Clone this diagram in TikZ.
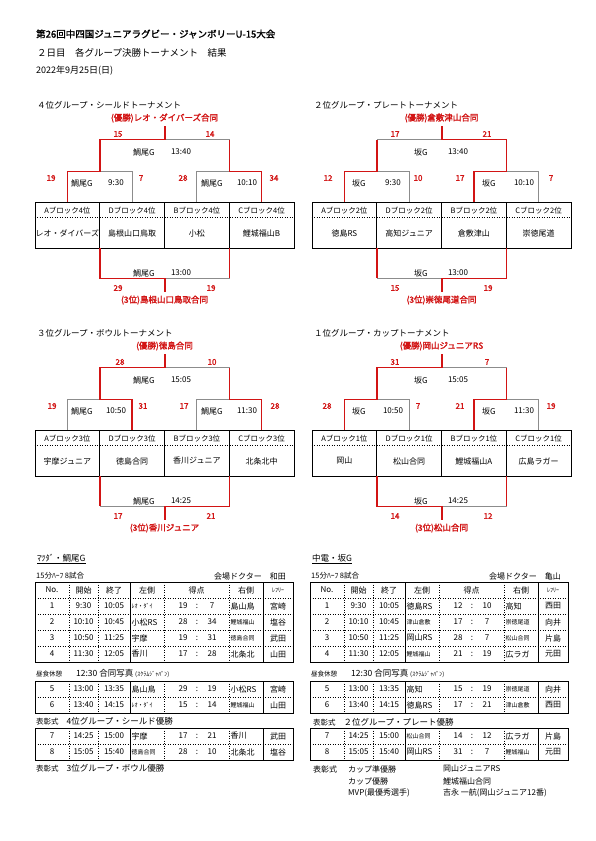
\documentclass[tikz,border=0pt]{standalone}
\usepackage{fontspec}
\setmainfont{Noto Sans CJK JP}
\newfontfamily\jpbold{Noto Sans CJK JP}[FakeBold=1.8]
\usetikzlibrary{positioning}
\definecolor{winred}{RGB}{210,20,20}
\definecolor{losegray}{RGB}{140,140,140}
\newcommand\smtxt{\fontsize{6}{7}\selectfont}
\tikzset{
	win/.style={draw=winred, line width=1.4pt},
	lose/.style={draw=losegray, line width=0.9pt},
	col/.style={draw, line width=0.8pt, minimum width=64.75pt, minimum height=46pt, inner sep=0pt},
	blk/.style={font=\fontsize{7.5}{8}\selectfont, inner sep=0pt},
	team/.style={font=\fontsize{8}{9}\selectfont, inner sep=0pt},
	venue/.style={font=\fontsize{8}{9}\selectfont, inner sep=0pt},
	score/.style={text=winred, font=\jpbold\fontsize{8}{9}\selectfont, inner sep=0pt},
	result/.style={text=winred, font=\jpbold\fontsize{8.5}{9}\selectfont, inner sep=0pt},
	ttl/.style={anchor=west, font=\fontsize{8.5}{9}\selectfont, inner sep=0pt},
	cell/.style={font=\fontsize{8}{9}\selectfont, inner sep=0pt},
	lcell/.style={cell, anchor=west},
	tabframe/.style={draw, line width=0.8pt},
	dotline/.style={draw, dotted, line width=0.5pt},
	note/.style={anchor=west, font=\fontsize{8.5}{9}\selectfont, inner sep=0pt}
}
\begin{document}
\begin{tikzpicture}[x=1pt, y=-1pt]
\useasboundingbox[fill=white] (0,0) rectangle (595,841);

% heading
\node[anchor=west, inner sep=0pt, font=\jpbold\fontsize{9.5}{10}\selectfont] (title) at (36,34) {第26回中四国ジュニアラグビー・ジャンボリーU-15大会};
\node[note, font=\fontsize{9.5}{10}\selectfont] (sub) at (37,53) {２日目　各グループ決勝トーナメント　結果};
\node[note, font=\fontsize{9}{10}\selectfont] (date) at (36,71) {2022年9月25日(日)};

% shield
\begin{scope}
	\node[ttl] (shttl) at (37,105) {４位グループ・シールドトーナメント};
	\foreach \c/\x/\blk/\team in {A/67.375/Aブロック4位/レオ・ダイバーズ, D/132.125/Dブロック4位/島根山口鳥取, B/196.875/Bブロック4位/小松, C/261.625/Cブロック4位/鯉城福山B} {
		\node[col] (sh\c) at (\x,225) {};
		\node[blk] (sh\c b) at (\x,211) {\blk};
		\node[team] (sh\c t) at (\x,233) {\team};
	}
	\draw[dotline] ([yshift=-16pt]shA.north west) -- ([yshift=-16pt]shC.north east);
	\coordinate (sh-s1) at ([yshift=30pt]shA.north east);
	\coordinate (sh-s2) at ([yshift=30pt]shB.north east);
	\coordinate (sh-f) at ([yshift=62pt]shD.north east);
	\coordinate (sh-w) at ([yshift=76pt]shD.north east);
	\coordinate (sh-t) at ([yshift=-30pt]shD.south east);
	\coordinate (sh-tb) at ([yshift=-44pt]shD.south east);
	\draw[lose] (shD.north) |- (sh-s1);
	\draw[win] (shA.north) |- (sh-s1);
	\draw[lose] (shB.north) |- (sh-s2);
	\draw[win] (shC.north) |- (sh-s2);
	\draw[lose] (sh-s2 |- sh-f) -- (sh-f);
	\draw[win] (sh-s2) -- (sh-s2 |- sh-f);
	\draw[win] (sh-s1) |- (sh-f) -- (sh-w);
	\draw[lose] (shB.south east |- sh-t) -- (sh-t);
	\draw[win] (shB.south east) -- (shB.south east |- sh-t);
	\draw[win] (shA.south east) |- (sh-t) -- (sh-tb);
	\node[result] (sh-wn) at (164.5,118) {(優勝)レオ・ダイバーズ合同};
	\node[score] (sh-fl) at (118,134) {15};
	\node[score] (sh-fr) at (210,134) {14};
	\node[venue] (sh-fv) at (144,152) {鯛尾G};
	\node[venue] (sh-ft) at (181,152) {13:40};
	\node[score] (sh-1l) at (51,178) {19};
	\node[venue] (sh-1v) at (82,183) {鯛尾G};
	\node[venue] (sh-1t) at (116,183) {9:30};
	\node[score] (sh-1r) at (141,178) {7};
	\node[score] (sh-2l) at (183,178) {28};
	\node[venue] (sh-2v) at (212,183) {鯛尾G};
	\node[venue] (sh-2t) at (247,183) {10:10};
	\node[score] (sh-2r) at (274,178) {34};
	\node[venue] (sh-tv) at (144,273) {鯛尾G};
	\node[venue] (sh-tt) at (181,273) {13:00};
	\node[score] (sh-tl) at (118,288) {29};
	\node[score] (sh-tr) at (211,288) {19};
	\node[result] (sh-3rd) at (164.5,300) {(3位)島根山口鳥取合同};
\end{scope}

% plate
\begin{scope}[shift={(277,0)}]
	\node[ttl] (plttl) at (37,105) {２位グループ・プレートトーナメント};
	\foreach \c/\x/\blk/\team in {A/67.375/Aブロック2位/徳島RS, D/132.125/Dブロック2位/高知ジュニア, B/196.875/Bブロック2位/倉敷津山, C/261.625/Cブロック2位/崇徳尾道} {
		\node[col] (pl\c) at (\x,225) {};
		\node[blk] (pl\c b) at (\x,211) {\blk};
		\node[team] (pl\c t) at (\x,233) {\team};
	}
	\draw[dotline] ([yshift=-16pt]plA.north west) -- ([yshift=-16pt]plC.north east);
	\coordinate (pl-s1) at ([yshift=30pt]plA.north east);
	\coordinate (pl-s2) at ([yshift=30pt]plB.north east);
	\coordinate (pl-f) at ([yshift=62pt]plD.north east);
	\coordinate (pl-w) at ([yshift=76pt]plD.north east);
	\coordinate (pl-t) at ([yshift=-30pt]plD.south east);
	\coordinate (pl-tb) at ([yshift=-44pt]plD.south east);
	\draw[lose] (plD.north) |- (pl-s1);
	\draw[win] (plA.north) |- (pl-s1);
	\draw[lose] (plC.north) |- (pl-s2);
	\draw[win] (plB.north) |- (pl-s2);
	\draw[lose] (pl-s1 |- pl-f) -- (pl-f);
	\draw[win] (pl-s1) -- (pl-s1 |- pl-f);
	\draw[win] (pl-s2) |- (pl-f) -- (pl-w);
	\draw[lose] (plA.south east |- pl-t) -- (pl-t);
	\draw[win] (plA.south east) -- (plA.south east |- pl-t);
	\draw[win] (plB.south east) |- (pl-t) -- (pl-tb);
	\node[result] (pl-wn) at (164.5,118) {(優勝)倉敷津山合同};
	\node[score] (pl-fl) at (118,134) {17};
	\node[score] (pl-fr) at (210,134) {21};
	\node[venue] (pl-fv) at (144,152) {坂G};
	\node[venue] (pl-ft) at (181,152) {13:40};
	\node[score] (pl-1l) at (51,178) {12};
	\node[venue] (pl-1v) at (82,183) {坂G};
	\node[venue] (pl-1t) at (116,183) {9:30};
	\node[score] (pl-1r) at (141,178) {10};
	\node[score] (pl-2l) at (183,178) {17};
	\node[venue] (pl-2v) at (212,183) {坂G};
	\node[venue] (pl-2t) at (247,183) {10:10};
	\node[score] (pl-2r) at (274,178) {7};
	\node[venue] (pl-tv) at (144,273) {坂G};
	\node[venue] (pl-tt) at (181,273) {13:00};
	\node[score] (pl-tl) at (118,288) {15};
	\node[score] (pl-tr) at (211,288) {19};
	\node[result] (pl-3rd) at (164.5,300) {(3位)崇徳尾道合同};
\end{scope}

% bowl
\begin{scope}[shift={(0,228)}]
	\node[ttl] (bottl) at (37,105) {３位グループ・ボウルトーナメント};
	\foreach \c/\x/\blk/\team in {A/67.375/Aブロック3位/宇摩ジュニア, D/132.125/Dブロック3位/徳島合同, B/196.875/Bブロック3位/香川ジュニア, C/261.625/Cブロック3位/北条北中} {
		\node[col] (bo\c) at (\x,225) {};
		\node[blk] (bo\c b) at (\x,211) {\blk};
		\node[team] (bo\c t) at (\x,233) {\team};
	}
	\draw[dotline] ([yshift=-16pt]boA.north west) -- ([yshift=-16pt]boC.north east);
	\coordinate (bo-s1) at ([yshift=30pt]boA.north east);
	\coordinate (bo-s2) at ([yshift=30pt]boB.north east);
	\coordinate (bo-f) at ([yshift=62pt]boD.north east);
	\coordinate (bo-w) at ([yshift=76pt]boD.north east);
	\coordinate (bo-t) at ([yshift=-30pt]boD.south east);
	\coordinate (bo-tb) at ([yshift=-44pt]boD.south east);
	\draw[lose] (boA.north) |- (bo-s1);
	\draw[win] (boD.north) |- (bo-s1);
	\draw[lose] (boB.north) |- (bo-s2);
	\draw[win] (boC.north) |- (bo-s2);
	\draw[lose] (bo-s2 |- bo-f) -- (bo-f);
	\draw[win] (bo-s2) -- (bo-s2 |- bo-f);
	\draw[win] (bo-s1) |- (bo-f) -- (bo-w);
	\draw[lose] (boA.south east |- bo-t) -- (bo-t);
	\draw[win] (boA.south east) -- (boA.south east |- bo-t);
	\draw[win] (boB.south east) |- (bo-t) -- (bo-tb);
	\node[result] (bo-wn) at (164.5,118) {(優勝)徳島合同};
	\node[score] (bo-fl) at (120,134) {28};
	\node[score] (bo-fr) at (212,134) {10};
	\node[venue] (bo-fv) at (144,152) {鯛尾G};
	\node[venue] (bo-ft) at (181,152) {15:05};
	\node[score] (bo-1l) at (52,178) {19};
	\node[venue] (bo-1v) at (82,183) {鯛尾G};
	\node[venue] (bo-1t) at (116,183) {10:50};
	\node[score] (bo-1r) at (143,178) {31};
	\node[score] (bo-2l) at (184,178) {17};
	\node[venue] (bo-2v) at (212,183) {鯛尾G};
	\node[venue] (bo-2t) at (247,183) {11:30};
	\node[score] (bo-2r) at (275,178) {28};
	\node[venue] (bo-tv) at (144,273) {鯛尾G};
	\node[venue] (bo-tt) at (181,273) {14:25};
	\node[score] (bo-tl) at (118,288) {17};
	\node[score] (bo-tr) at (211,288) {21};
	\node[result] (bo-3rd) at (164.5,300) {(3位)香川ジュニア};
\end{scope}

% cup
\begin{scope}[shift={(277,228)}]
	\node[ttl] (cuttl) at (37,105) {１位グループ・カップトーナメント};
	\foreach \c/\x/\blk/\team in {A/67.375/Aブロック1位/岡山, D/132.125/Dブロック1位/松山合同, B/196.875/Bブロック1位/鯉城福山A, C/261.625/Cブロック1位/広島ラガー} {
		\node[col] (cu\c) at (\x,225) {};
		\node[blk] (cu\c b) at (\x,211) {\blk};
		\node[team] (cu\c t) at (\x,233) {\team};
	}
	\draw[dotline] ([yshift=-16pt]cuA.north west) -- ([yshift=-16pt]cuC.north east);
	\coordinate (cu-s1) at ([yshift=30pt]cuA.north east);
	\coordinate (cu-s2) at ([yshift=30pt]cuB.north east);
	\coordinate (cu-f) at ([yshift=62pt]cuD.north east);
	\coordinate (cu-w) at ([yshift=76pt]cuD.north east);
	\coordinate (cu-t) at ([yshift=-30pt]cuD.south east);
	\coordinate (cu-tb) at ([yshift=-44pt]cuD.south east);
	\draw[lose] (cuD.north) |- (cu-s1);
	\draw[win] (cuA.north) |- (cu-s1);
	\draw[lose] (cuC.north) |- (cu-s2);
	\draw[win] (cuB.north) |- (cu-s2);
	\draw[lose] (cu-s2 |- cu-f) -- (cu-f);
	\draw[win] (cu-s2) -- (cu-s2 |- cu-f);
	\draw[win] (cu-s1) |- (cu-f) -- (cu-w);
	\draw[lose] (cuB.south east |- cu-t) -- (cu-t);
	\draw[win] (cuB.south east) -- (cuB.south east |- cu-t);
	\draw[win] (cuA.south east) |- (cu-t) -- (cu-tb);
	\node[result] (cu-wn) at (164.5,118) {(優勝)岡山ジュニアRS};
	\node[score] (cu-fl) at (118,134) {31};
	\node[score] (cu-fr) at (210,134) {7};
	\node[venue] (cu-fv) at (144,152) {坂G};
	\node[venue] (cu-ft) at (181,152) {15:05};
	\node[score] (cu-1l) at (50,178) {28};
	\node[venue] (cu-1v) at (82,183) {坂G};
	\node[venue] (cu-1t) at (116,183) {10:50};
	\node[score] (cu-1r) at (141,178) {7};
	\node[score] (cu-2l) at (183,178) {21};
	\node[venue] (cu-2v) at (212,183) {坂G};
	\node[venue] (cu-2t) at (247,183) {11:30};
	\node[score] (cu-2r) at (274,178) {19};
	\node[venue] (cu-tv) at (144,273) {坂G};
	\node[venue] (cu-tt) at (181,273) {14:25};
	\node[score] (cu-tl) at (118,288) {14};
	\node[score] (cu-tr) at (211,288) {12};
	\node[result] (cu-3rd) at (164.5,300) {(3位)松山合同};
\end{scope}

% match table, Mazda / Taio ground
\begin{scope}
	\node[note] (lhd) at (37,559) {\underline{ﾏﾂﾀﾞ・鯛尾G}};
	\node[note, font=\fontsize{7.5}{8}\selectfont] (lfmt) at (36,576) {15分ﾊｰﾌ 8試合};
	\node[note, anchor=east, font=\fontsize{8}{9}\selectfont] (ldoc) at (286,576) {会場ドクター　和田};
	\foreach \top/\bot in {582/662, 681/713, 728/760} {
		\draw[tabframe] (35,\top) rectangle (293,\bot);
		\foreach \x in {69,98,164,229} \draw[dotline] (\x,\top) -- (\x,\bot);
		\foreach \x in {130,263} \draw[tabframe] (\x,\top) -- (\x,\bot);
	}
	\foreach \y in {598,614,630,646,697,744} \draw[dotline] (35,\y) -- (293,\y);
	\foreach \x/\h [count=\i] in {52/No., 83.5/開始, 114/終了, 147/左側, 196.5/得点, 246/右側, 278/{\smtxt ﾚﾌﾘｰ}}
		\node[cell] (lh\i) at (\x,590) {\h};
	\foreach \rn/\ry/\ts/\te/\lteam/\pa/\pb/\rteam/\rf in {
		1/606/9:30/10:05/{\smtxt ﾚｵ・ﾀﾞｲ}/19/7/島山鳥/宮崎,
		2/622/10:10/10:45/小松RS/28/34/{\smtxt 鯉城福山}/塩谷,
		3/638/10:50/11:25/宇摩/19/31/{\smtxt 徳島合同}/武田,
		4/654/11:30/12:05/香川/17/28/北条北/山田,
		5/689/13:00/13:35/島山鳥/29/19/小松RS/宮崎,
		6/705/13:40/14:15/{\smtxt ﾚｵ・ﾀﾞｲ}/15/14/{\smtxt 鯉城福山}/山田,
		7/736/14:25/15:00/宇摩/17/21/香川/武田,
		8/752/15:05/15:40/{\smtxt 徳島合同}/28/10/北条北/塩谷} {
		\node[cell] (lr\rn-no) at (52,\ry) {\rn};
		\node[cell] (lr\rn-ts) at (83.5,\ry) {\ts};
		\node[cell] (lr\rn-te) at (114,\ry) {\te};
		\node[lcell] (lr\rn-lt) at (131.5,\ry) {\lteam};
		\node[cell] (lr\rn-pa) at (183,\ry) {\pa};
		\node[cell] (lr\rn-co) at (197,\ry) {:};
		\node[cell] (lr\rn-pb) at (212,\ry) {\pb};
		\node[lcell] (lr\rn-rt) at (230.5,\ry) {\rteam};
		\node[cell] (lr\rn-rf) at (278,\ry) {\rf};
	}
	\node[note] (llunch) at (36,674) {{\fontsize{6.5}{7}\selectfont 昼食休憩}\hspace{14pt}12:30 合同写真 {\smtxt (ｽｸﾗﾑｼﾞｬﾊﾟﾝ)}};
	\node[note] (lprize1) at (36,721) {{\fontsize{7.5}{8}\selectfont 表彰式}\hspace{8pt}4位グループ・シールド優勝};
	\node[note] (lprize2) at (36,768) {{\fontsize{7.5}{8}\selectfont 表彰式}\hspace{8pt}3位グループ・ボウル優勝};
\end{scope}

% match table, Chuden / Saka ground
\begin{scope}[shift={(275,0)}]
	\node[note] (rhd) at (37,559) {\underline{中電・坂G}};
	\node[note, font=\fontsize{7.5}{8}\selectfont] (rfmt) at (36,576) {15分ﾊｰﾌ 8試合};
	\node[note, anchor=east, font=\fontsize{8}{9}\selectfont] (rdoc) at (286,576) {会場ドクター　亀山};
	\foreach \top/\bot in {582/662, 681/713, 728/760} {
		\draw[tabframe] (35,\top) rectangle (293,\bot);
		\foreach \x in {69,98,164,229} \draw[dotline] (\x,\top) -- (\x,\bot);
		\foreach \x in {130,263} \draw[tabframe] (\x,\top) -- (\x,\bot);
	}
	\foreach \y in {598,614,630,646,697,744} \draw[dotline] (35,\y) -- (293,\y);
	\foreach \x/\h [count=\i] in {52/No., 83.5/開始, 114/終了, 147/左側, 196.5/得点, 246/右側, 278/{\smtxt ﾚﾌﾘｰ}}
		\node[cell] (rh\i) at (\x,590) {\h};
	\foreach \rn/\ry/\ts/\te/\lteam/\pa/\pb/\rteam/\rf in {
		1/606/9:30/10:05/徳島RS/12/10/高知/西田,
		2/622/10:10/10:45/{\smtxt 津山倉敷}/17/7/{\smtxt 崇徳尾道}/向井,
		3/638/10:50/11:25/岡山RS/28/7/{\smtxt 松山合同}/片島,
		4/654/11:30/12:05/{\smtxt 鯉城福山}/21/19/広ラガ/元田,
		5/689/13:00/13:35/高知/15/19/{\smtxt 崇徳尾道}/向井,
		6/705/13:40/14:15/徳島RS/17/21/{\smtxt 津山倉敷}/西田,
		7/736/14:25/15:00/{\smtxt 松山合同}/14/12/広ラガ/片島,
		8/752/15:05/15:40/岡山RS/31/7/{\smtxt 鯉城福山}/元田} {
		\node[cell] (rr\rn-no) at (52,\ry) {\rn};
		\node[cell] (rr\rn-ts) at (83.5,\ry) {\ts};
		\node[cell] (rr\rn-te) at (114,\ry) {\te};
		\node[lcell] (rr\rn-lt) at (131.5,\ry) {\lteam};
		\node[cell] (rr\rn-pa) at (183,\ry) {\pa};
		\node[cell] (rr\rn-co) at (197,\ry) {:};
		\node[cell] (rr\rn-pb) at (212,\ry) {\pb};
		\node[lcell] (rr\rn-rt) at (230.5,\ry) {\rteam};
		\node[cell] (rr\rn-rf) at (278,\ry) {\rf};
	}
	\node[note] (rlunch) at (36,674) {{\fontsize{6.5}{7}\selectfont 昼食休憩}\hspace{14pt}12:30 合同写真 {\smtxt (ｽｸﾗﾑｼﾞｬﾊﾟﾝ)}};
	\node[note] (rprize1) at (38,722) {{\fontsize{7.5}{8}\selectfont 表彰式}\hspace{8pt}２位グループ・プレート優勝};
	\node[note, font=\fontsize{8}{9}\selectfont] (rprize2) at (38,769) {表彰式};
	\node[note, font=\fontsize{8}{9}\selectfont] (rcup2) at (73,769) {カップ準優勝};
	\node[note, font=\fontsize{8}{9}\selectfont] (rcup2t) at (168,769) {岡山ジュニアRS};
	\node[note, font=\fontsize{8}{9}\selectfont] (rcup1) at (73,781) {カップ優勝};
	\node[note, font=\fontsize{8}{9}\selectfont] (rcup1t) at (168,781) {鯉城福山合同};
	\node[note, font=\fontsize{8}{9}\selectfont] (rmvp) at (73,793) {MVP(最優秀選手)};
	\node[note, font=\fontsize{8}{9}\selectfont] (rmvpt) at (168,793) {吉永 一航(岡山ジュニア12番)};
\end{scope}
\end{tikzpicture}
\end{document}
